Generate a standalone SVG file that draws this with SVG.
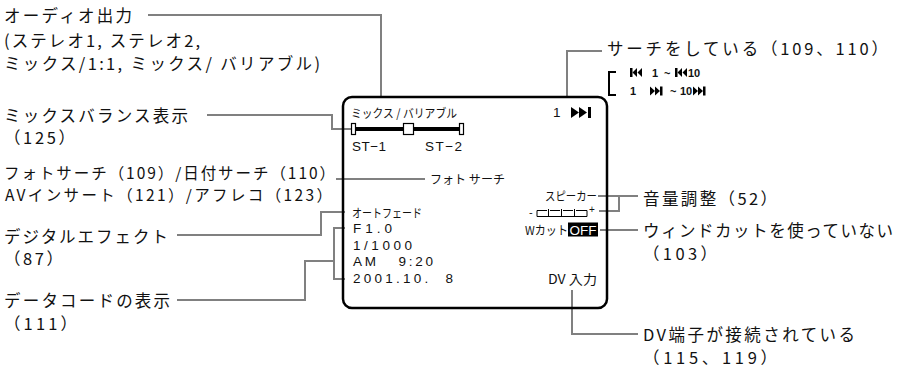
<svg xmlns="http://www.w3.org/2000/svg" width="909" height="368" viewBox="0 0 909 368">
<style>
.lbl{font-family:"Noto Sans CJK JP","Liberation Sans",sans-serif;font-size:16.5px;fill:#111;dominant-baseline:central}
.tight{font-size:15.5px}
.scr{font-family:"Liberation Sans","Noto Sans CJK JP",sans-serif;font-size:13.5px;fill:#111;dominant-baseline:central}
.scj{font-family:"Noto Sans CJK JP",sans-serif;font-size:12px;fill:#111;dominant-baseline:central}
.sm{font-family:"Liberation Sans",sans-serif;font-size:11px;font-weight:bold;fill:#111;dominant-baseline:central}
.con{fill:none;stroke:#808080;stroke-width:2}
.ico{fill:#000}
</style>
<rect width="909" height="368" fill="#fff"/>
<g id="connectors">
<path class="con" d="M148,15 H381 V97"/>
<path class="con" d="M207,115 H332 V129 H351"/>
<path class="con" d="M336,179 H425"/>
<path class="con" d="M177,235 H321 V212 H345"/>
<path class="con" d="M177,300 H305 V261 H334"/>
<path class="con" d="M345,228 H334 V279 H345"/>
<path class="con" d="M567,97 V51 H602"/>
<path class="con" d="M598,196 H638 M619,196 V211 H599"/>
<path class="con" d="M600,230 H638"/>
<path class="con" d="M572,290 V334 H638"/>
<path d="M616,72 H609 V95 H616" fill="none" stroke="#000" stroke-width="2"/>
</g>
<g id="screen">
<rect x="343" y="97" width="264" height="211" rx="9" fill="none" stroke="#000" stroke-width="2.5"/>
<text class="scj" x="351" y="112" textLength="106" lengthAdjust="spacingAndGlyphs">ミックス / バリアブル</text>
<text class="scr" x="553" y="112">1</text>
<polygon class="ico" points="571,107 579,112.5 571,118"/>
<polygon class="ico" points="579,107 587,112.5 579,118"/>
<rect class="ico" x="588" y="107" width="3" height="11"/>
<rect class="ico" x="355" y="127" width="105" height="4"/>
<rect x="351.5" y="123.5" width="4" height="11" fill="#fff" stroke="#000" stroke-width="1.2"/>
<rect x="403.5" y="123.5" width="10" height="11" fill="#fff" stroke="#000" stroke-width="1.2"/>
<rect x="459.5" y="123.5" width="4" height="11" fill="#fff" stroke="#000" stroke-width="1.2"/>
<text class="scr" x="352" y="146" textLength="34" lengthAdjust="spacing">ST−1</text>
<text class="scr" x="425" y="146" textLength="37" lengthAdjust="spacing">ST−2</text>
<text class="scj" x="430" y="178" textLength="75" lengthAdjust="spacingAndGlyphs">フォト  サーチ</text>
<text class="scj" x="352" y="212" textLength="70" lengthAdjust="spacingAndGlyphs">オートフェード</text>
<text class="scr" x="353" y="228" textLength="39" lengthAdjust="spacing">F1.0</text>
<text class="scr" x="353" y="245" textLength="59" lengthAdjust="spacing">1/1000</text>
<text class="scr" x="353" y="261" textLength="80" lengthAdjust="spacing" xml:space="preserve">AM   9:20</text>
<text class="scr" x="353" y="278" textLength="100" lengthAdjust="spacing" xml:space="preserve">2001.10.  8</text>
<text class="scj" x="545" y="195" textLength="52" lengthAdjust="spacingAndGlyphs">スピーカー</text>
<text class="sm" x="529" y="212" style="font-weight:normal">-</text>
<path d="M537,210.5 V216.5 H587 V210.5 M537,210.5 H547 M550,210.5 H560 M563,210.5 H573 M576,210.5 H587 M548.5,209 V216.5 M561.5,209 V216.5 M574.5,209 V216.5" fill="none" stroke="#000" stroke-width="1"/>
<text class="sm" x="589" y="209" style="font-weight:normal;font-size:10px">+</text>
<text class="scj" x="525" y="229" textLength="43" lengthAdjust="spacingAndGlyphs">Wカット</text>
<rect class="ico" x="568" y="222.5" width="30" height="14"/>
<text class="scr" x="569.5" y="230" style="fill:#fff;font-size:13px" textLength="27" lengthAdjust="spacingAndGlyphs">OFF</text>
<text class="scj" x="548" y="278" style="font-size:13px" textLength="49" lengthAdjust="spacingAndGlyphs">DV 入力</text>
</g>
<g id="n-audio">
<text class="lbl" x="4" y="15" textLength="128" lengthAdjust="spacing">オーディオ出力</text>
<text class="lbl" x="4" y="40" textLength="196" lengthAdjust="spacing">(ステレオ1, ステレオ2,</text>
<text class="lbl" x="4" y="63" textLength="316" lengthAdjust="spacing">ミックス/1:1, ミックス/ バリアブル)</text>
</g>
<g id="n-balance">
<text class="lbl" x="4" y="115" textLength="184" lengthAdjust="spacing">ミックスバランス表示</text>
<text class="lbl" x="4" y="137" textLength="71" lengthAdjust="spacing">（125）</text>
</g>
<g id="n-search">
<text class="lbl tight" x="4" y="172" textLength="331" lengthAdjust="spacing">フォトサーチ（109）/日付サーチ（110）</text>
<text class="lbl tight" x="5" y="194" textLength="327" lengthAdjust="spacing">AVインサート（121）/アフレコ（123）</text>
</g>
<g id="n-digital">
<text class="lbl" x="4" y="236" textLength="164" lengthAdjust="spacing">デジタルエフェクト</text>
<text class="lbl" x="4" y="258" textLength="59" lengthAdjust="spacing">（87）</text>
</g>
<g id="n-datacode">
<text class="lbl" x="4" y="300" textLength="166" lengthAdjust="spacing">データコードの表示</text>
<text class="lbl" x="4" y="323" textLength="73" lengthAdjust="spacing">（111）</text>
</g>
<g id="n-searching">
<text class="lbl" x="607" y="48" textLength="281" lengthAdjust="spacing">サーチをしている（109、110）</text>
<rect class="ico" x="630" y="68" width="2.5" height="9"/>
<polygon class="ico" points="637,68 632.5,72.5 637,77"/>
<polygon class="ico" points="642,68 637.5,72.5 642,77"/>
<text class="sm" x="652" y="73">1</text>
<text class="sm" x="664" y="73">~</text>
<rect class="ico" x="675" y="68" width="2.5" height="9"/>
<polygon class="ico" points="682,68 677.5,72.5 682,77"/>
<polygon class="ico" points="687,68 682.5,72.5 687,77"/>
<text class="sm" x="688" y="73">10</text>
<text class="sm" x="630" y="91">1</text>
<polygon class="ico" points="650,86.5 655,91 650,95.5"/>
<polygon class="ico" points="655,86.5 660,91 655,95.5"/>
<rect class="ico" x="660" y="86.5" width="2.5" height="9"/>
<text class="sm" x="670" y="91">~</text>
<text class="sm" x="680" y="91">10</text>
<polygon class="ico" points="693,86.5 698,91 693,95.5"/>
<polygon class="ico" points="698,86.5 703,91 698,95.5"/>
<rect class="ico" x="703" y="86.5" width="2.5" height="9"/>
</g>
<g id="n-volume">
<text class="lbl" x="643" y="198" textLength="134" lengthAdjust="spacing">音量調整（52）</text>
</g>
<g id="n-wind">
<text class="lbl" x="643" y="230" textLength="250" lengthAdjust="spacing">ウィンドカットを使っていない</text>
<text class="lbl" x="643" y="253" textLength="74" lengthAdjust="spacing">（103）</text>
</g>
<g id="n-dv">
<text class="lbl" x="643" y="334" textLength="212" lengthAdjust="spacing">DV端子が接続されている</text>
<text class="lbl" x="643" y="357" textLength="134" lengthAdjust="spacing">（115、119）</text>
</g>
</svg>
